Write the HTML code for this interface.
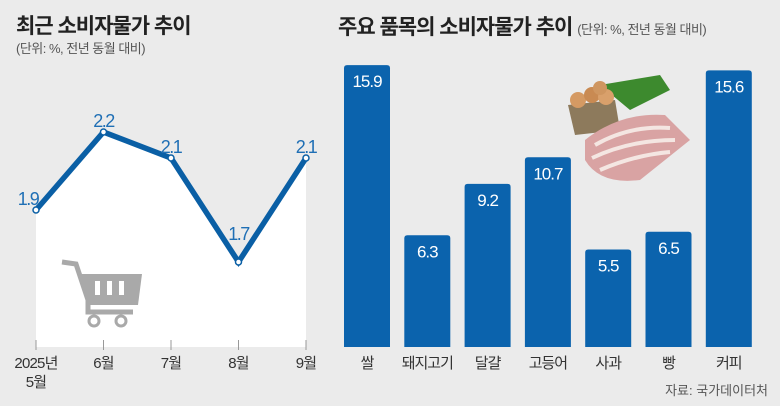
<!DOCTYPE html>
<html><head><meta charset="utf-8"><style>
body{margin:0;background:#ebebeb;}
#wrap{position:relative;width:780px;height:406px;background:#ebebeb;font-family:"Liberation Sans","Noto Sans CJK KR",sans-serif;overflow:hidden}
.t{position:absolute;white-space:nowrap;color:#222}
</style></head><body>
<div id="wrap">
<div class="t" style="left:16px;top:10px;font-size:21px;font-weight:bold;letter-spacing:-1px">최근 소비자물가 추이</div>
<div class="t" style="left:16px;top:38px;font-size:13px;color:#555;letter-spacing:-0.5px">(단위: %, 전년 동월 대비)</div>
<div class="t" style="left:338px;top:11px;font-size:21px;font-weight:bold;letter-spacing:-1px">주요 품목의 소비자물가 추이 <span style="font-size:13px;font-weight:normal;color:#555;letter-spacing:-0.5px">(단위: %, 전년 동월 대비)</span></div>
<div class="t" style="right:12px;top:380px;font-size:13px;color:#555">자료: 국가데이터처</div>
<svg id="chart" width="780" height="406" style="position:absolute;left:0;top:0">
<g id="food">
<path d="M600 85 L660 75 L670 90 L630 110 Z" fill="#3d8a2e"/>
<path d="M568 105 L615 100 L620 130 L575 135 Z" fill="#8d7a5c"/>
<circle cx="578" cy="100" r="8" fill="#d59a63"/><circle cx="592" cy="95" r="8" fill="#c98a52"/><circle cx="606" cy="97" r="8" fill="#d9a06b"/><circle cx="600" cy="88" r="7" fill="#cf9660"/>
<path d="M585 140 Q620 112 665 115 L690 140 L640 180 Q600 185 585 160 Z" fill="#d9a3a3"/>
<path d="M595 145 Q630 125 670 128 M592 158 Q630 140 675 140 M600 170 Q635 155 670 152" stroke="#f4e6e2" stroke-width="4" fill="none"/>
</g>
<g id="cart" fill="#a9a9a9">
<path d="M62 262 L76 264 L88 300 L88 312 L133 312" stroke="#a9a9a9" stroke-width="5" fill="none"/>
<path d="M79 274 L142 274 L138 305 L88 305 Z"/>
<rect x="95" y="281" width="5" height="14" fill="#fff"/><rect x="107" y="281" width="5" height="14" fill="#fff"/><rect x="119" y="281" width="5" height="14" fill="#fff"/>
<circle cx="94" cy="321" r="5" fill="none" stroke="#a9a9a9" stroke-width="3"/><circle cx="121" cy="321" r="5" fill="none" stroke="#a9a9a9" stroke-width="3"/>
</g>
</svg>
</div>
<script>
const months=['2025년|5월','6월','7월','8월','9월'];
const cpi=[1.9,2.2,2.1,1.7,2.1];
const items=['쌀','돼지고기','달걀','고등어','사과','빵','커피'];
const itemVals=[15.9,6.3,9.2,10.7,5.5,6.5,15.6];
const svg=document.getElementById('chart');
const NS='http://www.w3.org/2000/svg';
function mk(tag,attrs,parent){const e=document.createElementNS(NS,tag);for(const k in attrs)e.setAttribute(k,attrs[k]);(parent||svg).appendChild(e);return e;}
const lx=i=>36+i*(270/(months.length-1));
const ly=v=>210-(v-1.9)*260;
const base=347;
let d='M'+lx(0)+' '+base;cpi.forEach((v,i)=>d+=' L'+lx(i)+' '+ly(v));d+=' L'+lx(cpi.length-1)+' '+base+' Z';
const area=mk('path',{d:d,fill:'#fff'});svg.insertBefore(area,svg.firstChild);


months.forEach((m,i)=>{
 const tk=mk('line',{x1:lx(i),x2:lx(i),y1:340,y2:350,stroke:'#999','stroke-width':1});
 
 
 m.split('|').forEach((s,j)=>{const t=mk('text',{x:lx(i),y:368+j*19,'text-anchor':'middle','font-size':15,fill:'#333','letter-spacing':'-0.8'});t.textContent=s;
 
 });
});
let p='';cpi.forEach((v,i)=>p+=(i?' L':'M')+lx(i)+' '+ly(v));
const ln=mk('path',{d:p,fill:'none',stroke:'#0a5fa5','stroke-width':5.5,'stroke-linejoin':'miter'});


cpi.forEach((v,i)=>{
 const c=mk('circle',{cx:lx(i),cy:ly(v),r:3,fill:'#fff',stroke:'#0a5fa5','stroke-width':1.5});
 
 
 const isMin=v===Math.min(...cpi);
 const t=mk('text',{x:lx(i)+(i==0?-8:0),y:ly(v)-(isMin?22:5),'text-anchor':'middle','font-size':18,fill:'#1f6fb5','letter-spacing':'-1.5'});t.textContent=v.toFixed(1);
 
 
});
const bx=i=>344+i*60.3;
const bw=46;
const by=v=>base-v*17.73;
items.forEach((c,i)=>{
 const y=by(itemVals[i]);
 const r=mk('path',{d:`M${bx(i)} ${base} V${y+3} Q${bx(i)} ${y} ${bx(i)+3} ${y} H${bx(i)+bw-3} Q${bx(i)+bw} ${y} ${bx(i)+bw} ${y+3} V${base} Z`,fill:'#0b63ad'});
 
 
 const t=mk('text',{x:bx(i)+bw/2,y:y+22,'text-anchor':'middle','font-size':17,fill:'#fff','letter-spacing':'-1'});t.textContent=itemVals[i].toFixed(1);
 
 
 const l=mk('text',{x:bx(i)+bw/2,y:368,'text-anchor':'middle','font-size':15,fill:'#333','letter-spacing':'-1'});l.textContent=c;
 
 
});
</script>
</body></html>
